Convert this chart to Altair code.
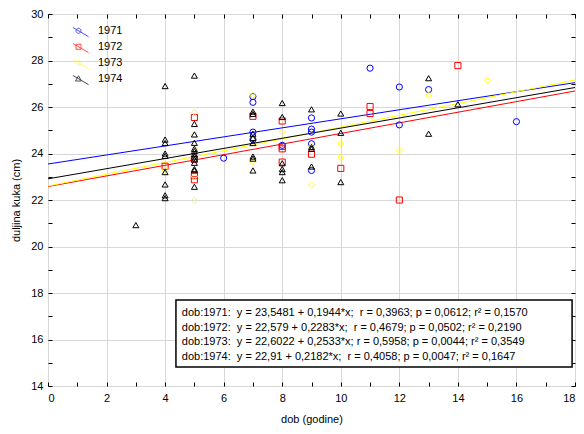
import altair as alt
import pandas as pd

years = ["1971", "1972", "1973", "1974"]
colors = ["#0000ff", "#ff0000", "#ffff00", "#000000"]
shapes = ["circle", "square", "diamond", "triangle-up"]
intercepts = [23.5481, 22.579, 22.6022, 22.91]
slopes = [0.1944, 0.2283, 0.2533, 0.2182]

x71 = [6, 7, 7, 7, 7, 8, 9, 9, 9, 9, 9, 11, 12, 12, 13, 16]
y71 = [23.8, 26.45, 26.2, 24.92, 24.6, 24.35, 25.53, 25.05, 24.92, 24.42, 23.27,
       27.67, 26.86, 25.23, 26.75, 25.37]

x72 = [4, 5, 5, 5, 5, 7, 8, 8, 8, 8, 9, 10, 11, 11, 12, 14]
y72 = [23.45, 25.55, 23.75, 23.05, 22.87, 25.6, 25.4, 24.3, 24.2, 23.63, 23.97,
       23.36, 26.02, 25.72, 22.0, 27.78]

x73 = [4, 5, 5, 5, 5, 5, 7, 7, 8, 9, 9, 10, 10, 12, 13, 15]
y73 = [23.3, 25.77, 24.82, 24.2, 23.0, 21.97, 26.5, 23.65, 24.92, 24.33, 22.64,
       24.43, 23.84, 24.15, 26.51, 27.14]

x74 = [3,
       4, 4, 4, 4, 4, 4, 4, 4, 4,
       5, 5, 5, 5, 5, 5, 5, 5, 5, 5, 5, 5, 5,
       7, 7, 7, 7, 7, 7, 7, 7,
       8, 8, 8, 8, 8, 8,
       9, 9, 9, 9,
       10, 10, 10,
       13, 13, 14]
y74 = [20.92,
       26.9, 24.6, 24.45, 24.0, 23.9, 23.2, 22.67, 22.2, 22.08,
       27.35, 25.27, 24.82, 24.46, 24.2, 24.1, 23.97, 23.87, 23.75, 23.6, 23.33, 23.27, 22.57,
       25.8, 25.7, 24.85, 24.67, 24.45, 23.87, 23.78, 23.27,
       26.17, 25.57, 23.58, 23.33, 23.2, 22.85,
       25.9, 24.28, 24.2, 23.44,
       25.72, 24.89, 22.77,
       27.24, 24.85, 26.12]

stat_lines = [
    "dob:1971:\u00a0\u00a0y = 23,5481 + 0,1944*x;\u00a0\u00a0r = 0,3963; p = 0,0612; r\u00b2 = 0,1570",
    "dob:1972:\u00a0\u00a0y = 22,579 + 0,2283*x;\u00a0\u00a0r = 0,4679; p = 0,0502; r\u00b2 = 0,2190",
    "dob:1973:\u00a0\u00a0y = 22,6022 + 0,2533*x;\u00a0r = 0,5958; p = 0,0044; r\u00b2 = 0,3549",
    "dob:1974:\u00a0\u00a0y = 22,91 + 0,2182*x;\u00a0\u00a0r = 0,4058; p = 0,0047; r\u00b2 = 0,1647",
]

FONT = "Liberation Sans"

rows = []
for yr, xs, ys in zip(years, [x71, x72, x73, x74], [y71, y72, y73, y74]):
    for a, b in zip(xs, ys):
        rows.append({"year": yr, "x": a, "y": b})
pts = pd.DataFrame(rows)

lrows = []
for yr, b0, b1 in zip(years, intercepts, slopes):
    for xv in (0, 18):
        lrows.append({"year": yr, "x": xv, "y": b0 + b1 * xv})
lines_df = pd.DataFrame(lrows)

xscale = alt.Scale(domain=[0, 18], nice=False, zero=False)
yscale = alt.Scale(domain=[14, 30], nice=False, zero=False)
cscale = alt.Scale(domain=years, range=colors)

even = "datum.value % 2 == 0"
grid_op = {"condition": {"test": even, "value": 1}, "value": 0}

x_axis_main = alt.Axis(values=list(range(0, 19)), labelExpr=f"{even} ? datum.label : ''",
                       grid=True, gridOpacity=grid_op, gridColor="#d8d8d8", gridWidth=1,
                       domain=False, ticks=True, tickSize=4, offset=-4, tickColor="black",
                       labelFont=FONT, labelFontSize=11, labelColor="black", labelPadding=6,
                       title="dob (godine)", titleFont=FONT, titleFontSize=11,
                       titleFontWeight="normal", titleColor="black", titlePadding=10)
y_axis_main = alt.Axis(values=list(range(14, 31)), labelExpr=f"{even} ? datum.label : ''",
                       grid=True, gridOpacity=grid_op, gridColor="#d8d8d8", gridWidth=1,
                       domain=False, ticks=True, tickSize=4, offset=-4, tickColor="black",
                       labelFont=FONT, labelFontSize=11, labelColor="black", labelPadding=5,
                       title="duljina kuka (cm)", titleFont=FONT, titleFontSize=11,
                       titleFontWeight="normal", titleColor="black", titlePadding=9)
x_axis_top = alt.Axis(orient="top", values=list(range(0, 19)), labels=False, grid=False,
                      domain=False, tickSize=4, offset=-4, tickColor="black", title=None)
y_axis_right = alt.Axis(orient="right", values=list(range(14, 31)), labels=False, grid=False,
                        domain=False, tickSize=4, offset=-4, tickColor="black", title=None)

lines = alt.Chart(lines_df).mark_line(strokeWidth=1).encode(
    x=alt.X("x:Q", scale=xscale, axis=x_axis_main),
    y=alt.Y("y:Q", scale=yscale, axis=y_axis_main),
    color=alt.Color("year:N", scale=cscale, legend=None),
    detail="year:N",
)

points = alt.Chart(pts).mark_point(filled=False, opacity=1).encode(
    x=alt.X("x:Q", scale=xscale, axis=x_axis_top),
    y=alt.Y("y:Q", scale=yscale, axis=y_axis_right),
    color=alt.Color("year:N", scale=cscale, legend=None),
    shape=alt.Shape("year:N", scale=alt.Scale(domain=years, range=shapes), legend=None),
    size=alt.Size("year:N", scale=alt.Scale(domain=years, range=[38, 36, 36, 44]), legend=None),
    strokeWidth=alt.StrokeWidth("year:N", scale=alt.Scale(domain=years, range=[1, 1, 1, 1.8]),
                                legend=None),
    order=alt.Order("year:N"),
)

leg_paths = [
    "M-2,-1.17L2,1.17M0.5,0A0.5,0.5,0,1,1,-0.5,0A0.5,0.5,0,1,1,0.5,0",
    "M-2,-1.17L2,1.17M-0.5,-0.5L0.5,-0.5L0.5,0.5L-0.5,0.5Z",
    "M-2,-1.17L2,1.17M0,-0.6L0.6,0L0,0.6L-0.6,0Z",
    "M-2,-1.17L2,1.17M0,-0.6L0.6,0.45L-0.6,0.45Z",
]
leg_opts = dict(orient="none", legendX=25, legendY=9, title=None,
                symbolSize=100, symbolStrokeWidth=1,
                labelFont=FONT, labelFontSize=11, labelColor="black",
                labelOffset=14, rowPadding=0, clipHeight=15.5, padding=0)
legend_layer = alt.Chart(pd.DataFrame({"year": years})).mark_point(filled=False).encode(
    color=alt.Color("year:N", scale=alt.Scale(domain=years, range=colors),
                    legend=alt.Legend(**leg_opts)),
    shape=alt.Shape("year:N", scale=alt.Scale(domain=years, range=leg_paths),
                    legend=alt.Legend(**leg_opts)),
).transform_filter("false")

box_df = pd.DataFrame({"x": [4.37], "x2": [17.9], "y": [17.7], "y2": [14.82]})
box = alt.Chart(box_df).mark_rect(fill="white", stroke="black", strokeWidth=1.5).encode(
    x=alt.X("x:Q", scale=xscale, axis=None), x2="x2:Q",
    y=alt.Y("y:Q", scale=yscale, axis=None), y2="y2:Q",
)

text_df = pd.DataFrame({"t": stat_lines, "x": [4.57] * 4, "y": [17.14, 16.51, 15.88, 15.25]})
texts = alt.Chart(text_df).mark_text(align="left", baseline="middle", font=FONT,
                                     fontSize=11, color="black").encode(
    x=alt.X("x:Q", scale=xscale, axis=None),
    y=alt.Y("y:Q", scale=yscale, axis=None),
    text="t:N",
)

chart = alt.layer(lines, points, legend_layer, box, texts).resolve_scale(
    color="independent", shape="independent", size="independent", strokeWidth="independent"
).resolve_axis(x="independent", y="independent").properties(
    width=527, height=372,
    autosize=alt.AutoSizeParams(type="none"),
    padding={"left": 40, "top": 6, "right": 1, "bottom": 40},
    background="white",
).configure_view(stroke="black", strokeWidth=1)

chart.save("out.html", embed_options={"renderer": "svg", "actions": False})
